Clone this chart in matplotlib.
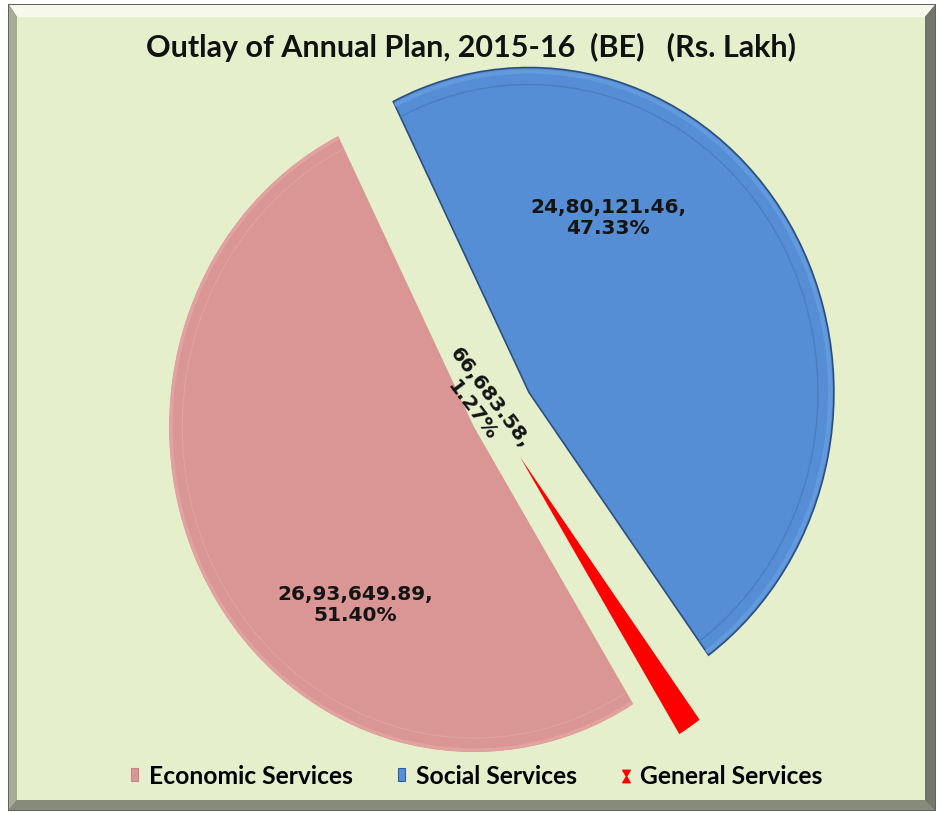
import matplotlib
matplotlib.use("Agg")
import matplotlib.pyplot as plt
from matplotlib.patches import Polygon, Patch, Arc
from matplotlib.lines import Line2D
from matplotlib.path import Path

# --- data -------------------------------------------------------------
categories = ["Economic Services", "Social Services", "General Services"]
outlay = [2693649.89, 2480121.46, 66683.58]
colors = ["#d99694", "#558ed5", "#ff0000"]
title = "Outlay of Annual Plan, 2015-16  (BE)   (Rs. Lakh)"

# --- layout -----------------------------------------------------------
W, H = 941, 813
SX = 0.938                     # source chart was squeezed sideways
RADIUS = 325
CENTER = (526.5, H - 415.3)
EXPLODE = [24.2, 43.9, 50.2]   # offsets in data units
START = -58.5


def inr(v):
    # indian digit grouping, e.g. 26,93,649.89
    whole, dec = f"{v:.2f}".split(".")
    head, tail = whole[:-3], whole[-3:]
    groups = []
    while len(head) > 2:
        groups.insert(0, head[-2:])
        head = head[:-2]
    if head:
        groups.insert(0, head)
    return ",".join(groups + [tail]) + "." + dec


def fx(x):
    return x / W


def fy(y):
    return 1 - y / H


fig = plt.figure(figsize=(W / 100, H / 100), dpi=100, facecolor="white")


def poly(pts, color):
    fig.add_artist(Polygon([(fx(x), fy(y)) for x, y in pts], closed=True,
                           transform=fig.transFigure, facecolor=color,
                           edgecolor="none", zorder=-10))


# bevelled frame
L, R, T, B = 8, 936, 4, 811
l, r, t, b = 17, 925, 17, 800
poly([(L, T), (R, T), (R, B), (L, B)], "#5f6358")
poly([(L + 1, T + 1), (R - 1, T + 1), (r, t), (l, t)], "#f5f8ea")
poly([(L + 1, T + 1), (l, t), (l, b), (L + 1, B - 1)], "#a6ab98")
poly([(R - 1, T + 1), (R - 1, B - 1), (r, b), (r, t)], "#73776b")
poly([(L + 1, B - 1), (l, b), (r, b), (R - 1, B - 1)], "#868b7c")
poly([(l, t), (r, t), (r, b), (l, b)], "#e5efcb")

ax = fig.add_axes([0, 0, 1, 1])
wedges, _ = ax.pie(outlay, explode=EXPLODE, colors=colors, startangle=START,
                   counterclock=False, radius=RADIUS, center=CENTER,
                   wedgeprops=dict(linewidth=0))
ax.set_xlim(0, W / SX)
ax.set_ylim(0, H)
ax.set_aspect("auto")
ax.axis("off")

wedges[1].set_edgecolor("#2c4f7f")
wedges[1].set_linewidth(1.2)

# bevel rims along the arcs
rims = [
    (wedges[0], 2, 2.5, "#e2a2a0"),
    (wedges[0], 14, 0.8, "#e1a3a1"),
    (wedges[1], 4, 3.0, "#639ade"),
    (wedges[1], 17, 1.0, "#4a7dbf"),
]
for w, inset, lw, c in rims:
    d = 2 * (w.r - inset)
    ax.add_patch(Arc(w.center, d, d, theta1=w.theta1, theta2=w.theta2,
                     color=c, lw=lw))

# data labels
total = sum(outlay)
labels = [f"{inr(v)},\n{v / total * 100:.2f}%" for v in outlay]
label_pos = [(355, 605, 0), (608, 218, 0), (481, 404, -53)]
for text, (x, y, rot) in zip(labels, label_pos):
    fig.text(fx(x), fy(y), text, ha="center", va="center", rotation=rot,
             rotation_mode="anchor", fontsize=14.5, fontweight="bold",
             family="DejaVu Sans", color="#141414", linespacing=1.15)

fig.text(fx(471), fy(47), title, ha="center", va="center", fontsize=22,
         fontweight="bold", family=["Lato", "DejaVu Sans"], color="#111111")

hourglass = Path([(-0.6, 1), (0.6, 1), (0, 0), (0.6, -1), (-0.6, -1), (0, 0), (-0.6, 1)],
                 [Path.MOVETO, Path.LINETO, Path.LINETO, Path.LINETO,
                  Path.LINETO, Path.LINETO, Path.CLOSEPOLY])
handles = [
    Patch(facecolor=colors[0], edgecolor="#c98684", linewidth=0.8),
    Patch(facecolor=colors[1], edgecolor="#2f5f9a", linewidth=0.8),
    Line2D([], [], ls="none", marker=hourglass, markersize=9,
           markerfacecolor=colors[2], markeredgecolor=colors[2]),
]
fig.legend(handles, categories, loc="center left",
           bbox_to_anchor=(fx(131), fy(776)), ncol=3, frameon=False,
           borderpad=0, borderaxespad=0, handlelength=0.3, handleheight=0.43,
           handletextpad=0.42, columnspacing=1.85,
           prop=dict(family=["Lato", "DejaVu Sans"], weight="bold", size=17.7))

fig.savefig("out.png", dpi=100, facecolor="white")
